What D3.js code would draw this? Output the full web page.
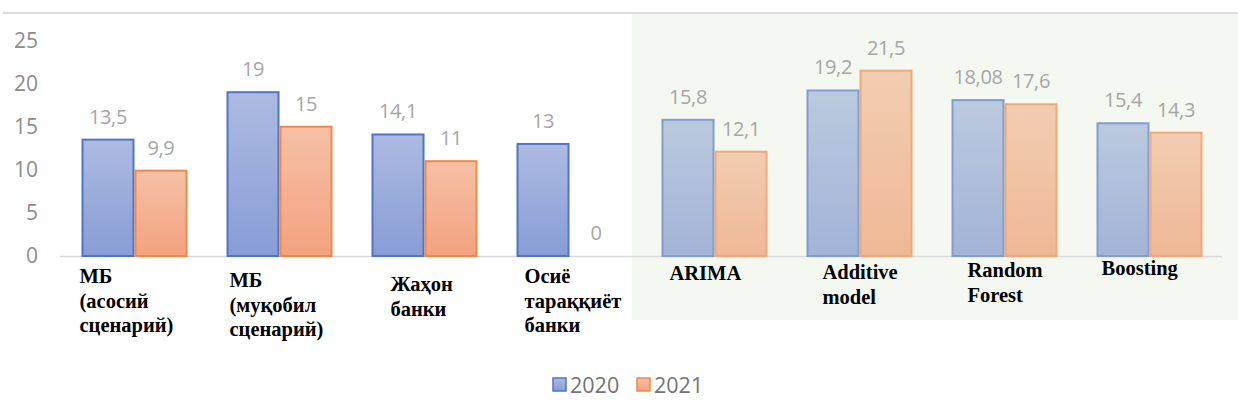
<!DOCTYPE html>
<html>
<head>
<meta charset="utf-8">
<script src="https://cdn.jsdelivr.net/npm/d3@7"></script>
<style>
  body { margin: 0; background: #fff; }
</style>
</head>
<body>
<script>
// categories, label lines for each category
var categories = ['MB1', 'MB2', 'WB', 'ADB', 'ARIMA', 'Additive', 'RF', 'Boosting'];
var catLines = [
  ['МБ', '(асосий', 'сценарий)'],
  ['МБ', '(муқобил', 'сценарий)'],
  ['Жаҳон', 'банки'],
  ['Осиё', 'тараққиёт', 'банки'],
  ['ARIMA'],
  ['Additive', 'model'],
  ['Random', 'Forest'],
  ['Boosting']
];
var series = ['2020', '2021'];
var values2020 = [13.5, 19, 14.1, 13, 15.8, 19.2, 18.08, 15.4];
var values2021 = [9.9, 15, 11, 0, 12.1, 21.5, 17.6, 14.3];
var valueText2020 = ['13,5', '19', '14,1', '13', '15,8', '19,2', '18,08', '15,4'];
var valueText2021 = ['9,9', '15', '11', '0', '12,1', '21,5', '17,6', '14,3'];
var yTicks = [0, 5, 10, 15, 20, 25];

// layout nudges for the category labels (dx from blue bar left, dy)
var labelNudge = [[-2, 0], [3, 4], [19, 8], [8, 0], [8, -3], [16, -4], [16, -6], [5, -8]];

var W = 1238, H = 414;

var svg = d3.select('body').append('svg')
  .attr('width', W)
  .attr('height', H);

var defs = svg.append('defs');
function grad(id, top, bottom) {
  var g = defs.append('linearGradient').attr('id', id)
    .attr('x1', 0).attr('y1', 0).attr('x2', 0).attr('y2', 1);
  g.append('stop').attr('offset', '0%').attr('stop-color', top);
  g.append('stop').attr('offset', '100%').attr('stop-color', bottom);
}
grad('blueL', '#adbbe2', '#889dd6');
grad('orangeL', '#f6c0a6', '#f4a27f');
grad('blueR', '#bccadf', '#a2b3d7');
grad('orangeR', '#f2cdb2', '#efb895');

// green panel behind the model groups
svg.append('rect')
  .attr('x', 632).attr('y', 14)
  .attr('width', W - 632).attr('height', 306)
  .attr('fill', '#f5f8f0');

// top rule
svg.append('line')
  .attr('x1', 3).attr('x2', W)
  .attr('y1', 13).attr('y2', 13)
  .attr('stroke', '#dcdcdc').attr('stroke-width', 2);

var x = d3.scaleBand().domain(categories).range([62, 1222]).padding(0);
var xs = d3.scaleBand().domain(series).range([0, 106]);
var y = d3.scaleLinear().domain([0, 25]).range([256, 40.5]);

var offset = (x.bandwidth() - 106) / 2;

// y tick labels
svg.selectAll('.ytick').data(yTicks).enter().append('text')
  .attr('class', 'ytick')
  .attr('x', 38)
  .attr('y', function(d){ return y(d); })
  .attr('dy', '0.35em')
  .attr('text-anchor', 'end')
  .attr('font-family', 'Open Sans, Liberation Sans, sans-serif')
  .attr('font-size', 21)
  .attr('fill', '#8c8c8c')
  .text(function(d){ return d; });

// baseline
svg.append('line')
  .attr('x1', 60).attr('x2', 1222)
  .attr('y1', y(0) + 0.5).attr('y2', y(0) + 0.5)
  .attr('stroke', '#d9d9d9').attr('stroke-width', 1.5);

var rows = [];
categories.forEach(function(c, i) {
  rows.push({cat: c, s: '2020', v: values2020[i], t: valueText2020[i], i: i});
  rows.push({cat: c, s: '2021', v: values2021[i], t: valueText2021[i], i: i});
});

function fillOf(d) {
  var side = d.i < 4 ? 'L' : 'R';
  return 'url(#' + (d.s === '2020' ? 'blue' : 'orange') + side + ')';
}
function strokeOf(d) {
  if (d.s === '2020') return d.i < 4 ? '#4f74c8' : '#7f9dd0';
  return d.i < 4 ? '#ef8a4c' : '#f0a878';
}

svg.selectAll('.bar').data(rows.filter(function(d){ return d.v > 0; }))
  .enter().append('rect')
  .attr('class', 'bar')
  .attr('x', function(d){ return x(d.cat) + offset + xs(d.s) + 1; })
  .attr('y', function(d){ return y(d.v); })
  .attr('width', xs.bandwidth() - 2)
  .attr('height', function(d){ return y(0) - y(d.v); })
  .attr('fill', fillOf)
  .attr('stroke', strokeOf)
  .attr('stroke-width', 2);

svg.selectAll('.val').data(rows).enter().append('text')
  .attr('class', 'val')
  .attr('x', function(d){ return x(d.cat) + offset + xs(d.s) + xs.bandwidth() / 2; })
  .attr('y', function(d){ return y(d.v) - 23; })
  .attr('dy', '0.35em')
  .attr('text-anchor', 'middle')
  .attr('font-family', 'Open Sans, Liberation Sans, sans-serif')
  .attr('font-size', 20)
  .attr('letter-spacing', -0.4)
  .attr('fill', '#a6a6a6')
  .text(function(d){ return d.t; });

// category labels
var cl = svg.selectAll('.cat').data(categories).enter().append('text')
  .attr('class', 'cat')
  .attr('font-family', 'Liberation Serif, Times New Roman, serif')
  .attr('font-weight', 'bold')
  .attr('font-size', 20.5)
  .attr('fill', '#000')
  .attr('transform', function(d, i){
    return 'translate(' + (x(d) + offset + labelNudge[i][0]) + ',' + (283 + labelNudge[i][1]) + ')';
  });
cl.selectAll('tspan').data(function(d, i){ return catLines[i]; })
  .enter().append('tspan')
  .attr('x', 0)
  .attr('y', function(d, j){ return j * 24.5; })
  .text(function(d){ return d; });

// legend
var legendColors = [['url(#blueL)', '#4f74c8'], ['url(#orangeL)', '#ef8a4c']];
var lg = svg.selectAll('.lg').data(series).enter().append('g')
  .attr('transform', function(d, i){ return 'translate(' + (553 + i * 84) + ',378)'; });
lg.append('rect')
  .attr('width', 13).attr('height', 13)
  .attr('fill', function(d, i){ return legendColors[i][0]; })
  .attr('stroke', function(d, i){ return legendColors[i][1]; })
  .attr('stroke-width', 1.5);
lg.append('text')
  .attr('x', 17).attr('y', 7)
  .attr('dy', '0.35em')
  .attr('font-family', 'Open Sans, Liberation Sans, sans-serif')
  .attr('font-size', 21.5)
  .attr('fill', '#747474')
  .text(function(d){ return d; });
</script>
</body>
</html>
